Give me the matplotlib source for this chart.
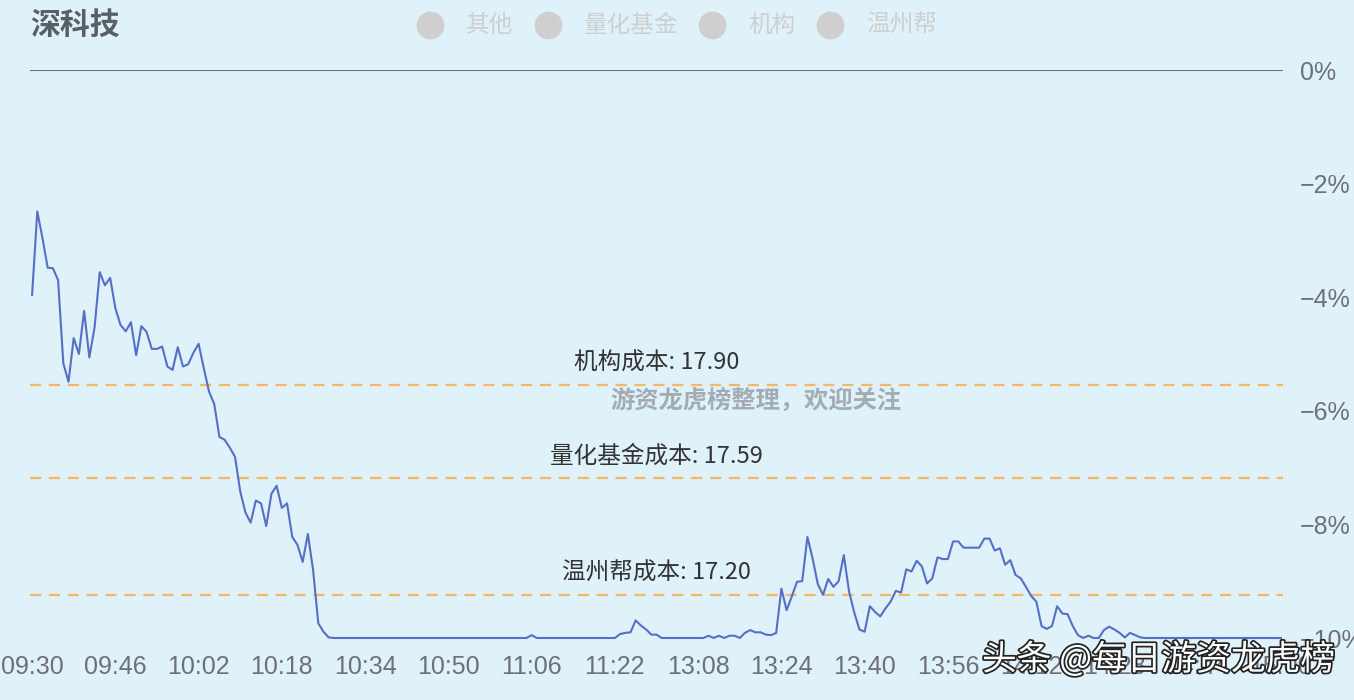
import matplotlib
matplotlib.use("Agg")
import matplotlib.pyplot as plt
import matplotlib.patheffects as pe
from matplotlib.lines import Line2D

plt.rcParams['font.family'] = ['Noto Sans CJK SC', 'DejaVu Sans']

title = "深科技"
legend_names = ["其他", "量化基金", "机构", "温州帮"]

# minute bars, % change vs previous close
pct = [
    -3.96, -2.49, -2.96, -3.48, -3.49, -3.70, -5.16, -5.49, -4.72, -5.00,
    -4.24, -5.06, -4.54, -3.56, -3.79, -3.66, -4.19, -4.49, -4.60, -4.44,
    -5.02, -4.51, -4.61, -4.91, -4.91, -4.87, -5.22, -5.28, -4.88, -5.22,
    -5.18, -4.98, -4.82, -5.25, -5.66, -5.88, -6.46, -6.51, -6.65, -6.81,
    -7.42, -7.79, -7.97, -7.58, -7.63, -8.03, -7.46, -7.32, -7.71, -7.63,
    -8.22, -8.36, -8.66, -8.17, -8.80, -9.74, -9.89, -9.99,
    -10.0, -10.0, -10.0, -10.0, -10.0, -10.0, -10.0, -10.0, -10.0, -10.0,
    -10.0, -10.0, -10.0, -10.0, -10.0, -10.0, -10.0, -10.0, -10.0, -10.0,
    -10.0, -10.0, -10.0, -10.0, -10.0, -10.0, -10.0, -10.0, -10.0, -10.0,
    -10.0, -10.0, -10.0, -10.0, -10.0, -10.0, -10.0, -10.0,
    -9.95,
    -10.0, -10.0, -10.0, -10.0, -10.0, -10.0, -10.0, -10.0, -10.0, -10.0,
    -10.0, -10.0, -10.0, -10.0, -10.0, -10.0,
    -9.93, -9.91, -9.90, -9.69, -9.78, -9.85, -9.94, -9.94,
    -10.0, -10.0, -10.0, -10.0, -10.0, -10.0, -10.0, -10.0, -10.0,
    -9.96, -10.0, -9.96, -10.0, -9.96, -9.96, -10.0, -9.91, -9.86, -9.90,
    -9.90, -9.94, -9.95, -9.91, -9.13, -9.51, -9.27, -9.01, -9.00, -8.22,
    -8.60, -9.05, -9.24, -8.96, -9.10, -9.00, -8.54, -9.18, -9.55, -9.85,
    -9.89, -9.44, -9.54, -9.62, -9.48, -9.36, -9.17, -9.20, -8.79, -8.83,
    -8.64, -8.74, -9.04, -8.95, -8.58, -8.61, -8.61, -8.30, -8.30, -8.41,
    -8.41, -8.41, -8.41, -8.25, -8.25, -8.46, -8.42, -8.71, -8.63, -8.89,
    -8.95, -9.10, -9.26, -9.36, -9.79, -9.84, -9.79, -9.44, -9.57, -9.58,
    -9.79, -9.95, -10.0, -9.96, -10.0, -10.0, -9.86, -9.80, -9.85, -9.91,
    -9.99, -9.91, -9.95, -9.99,
    -10.0, -10.0, -10.0, -10.0, -10.0, -10.0, -10.0, -10.0, -10.0, -10.0,
    -10.0, -10.0, -10.0, -10.0, -10.0, -10.0, -10.0, -10.0, -10.0, -10.0,
    -10.0, -10.0, -10.0, -10.0, -10.0, -10.0, -10.0,
]

prev_close = 18.95
cost_names = ["机构", "量化基金", "温州帮"]
cost_prices = [17.90, 17.59, 17.20]

# trading minutes 09:30-11:30, 13:01-15:00
times = []
for m in range(9 * 60 + 30, 11 * 60 + 31):
    times.append("%02d:%02d" % (m // 60, m % 60))
for m in range(13 * 60 + 1, 15 * 60 + 1):
    times.append("%02d:%02d" % (m // 60, m % 60))

bg = "#dff1f9"
grey = "#6e7079"

fig = plt.figure(figsize=(13.54, 7.0), dpi=100, facecolor=bg)
ax = fig.add_axes([30 / 1354, 62 / 700, 1253 / 1354, 568 / 700], facecolor=bg)

x = list(range(len(pct)))
ax.plot(x, pct, color="#5470c6", lw=1.5, clip_on=False, zorder=3)

ax.axhline(0, color=grey, lw=1.5, zorder=2)

for name, price in zip(cost_names, cost_prices):
    level = (price / prev_close - 1) * 100
    ax.axhline(level, color="#f5b862", lw=1.6, dashes=(5, 3.5), zorder=2)
    ax.annotate("%s成本: %.2f" % (name, price), xy=(120, level),
                xytext=(0, 7), textcoords="offset points",
                ha="center", va="bottom", fontsize=17, color="#333333")

ax.text(139, -5.83, "游资龙虎榜整理，欢迎关注", ha="center", va="center",
        fontsize=17.5, fontweight="bold", color="#a3acb3", zorder=4)

ax.set_xlim(-0.4, 240.4)
ax.set_ylim(-10, 0)
ax.set_xticks(x[::16])
ax.set_xticklabels(times[::16])
ax.set_yticks([0, -2, -4, -6, -8, -10])
ax.set_yticklabels(["0%", "\u22122%", "\u22124%", "\u22126%", "\u22128%", "\u221210%"])
ax.yaxis.tick_right()
ax.tick_params(axis="both", length=0, colors=grey, labelsize=18)
ax.tick_params(axis="y", pad=12)
ax.tick_params(axis="x", pad=12)
for lab in ax.get_xticklabels() + ax.get_yticklabels():
    lab.set_family(["Liberation Sans", "DejaVu Sans"])
for s in ax.spines.values():
    s.set_visible(False)

fig.text(30 / 1354, 1 - 25 / 700, title, ha="left", va="center",
         fontsize=21.5, fontweight="bold", color="#5a5f66")

dot_x = [430, 548, 712, 830]
for px, name in zip(dot_x, legend_names):
    fig.add_artist(Line2D([px / 1354], [1 - 25 / 700], marker="o", markersize=19,
                          color="#cfcfcf", transform=fig.transFigure))
    fig.text((px + 36) / 1354, 1 - 25 / 700, name, ha="left", va="center",
             fontsize=17, color="#cfcfcf")

fig.text(982 / 1354, 1 - 660 / 700, "头条 @每日游资龙虎榜", ha="left", va="center",
         fontsize=25, color="white", zorder=10,
         path_effects=[pe.withStroke(linewidth=2.5, foreground="#222222")])

fig.savefig("out.png", dpi=100, facecolor=bg)
